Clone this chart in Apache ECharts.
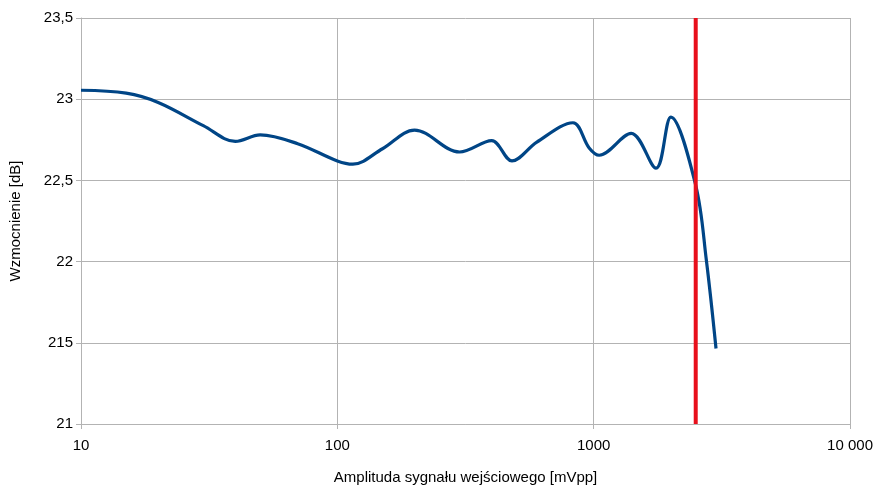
<!DOCTYPE html>
<html>
<head>
<meta charset="utf-8">
<script src="https://cdn.jsdelivr.net/npm/echarts@6/dist/echarts.min.js"></script>
<style>
  html, body { margin: 0; padding: 0; background: #fff; }
  #chart { width: 876px; height: 490px; }
</style>
</head>
<body>
<div id="chart"></div>
<script>
// Input amplitude (mVpp) and measured gain (dB)
const amplitude = [10, 15, 20, 30, 40, 50, 70, 100, 115, 150, 200, 300, 400, 480, 600, 830, 960, 1050, 1400, 1750, 2000, 2500, 2750, 3000];
const gain = [23.055, 23.037, 22.98, 22.837, 22.74, 22.78, 22.726, 22.62, 22.60, 22.695, 22.81, 22.675, 22.745, 22.62, 22.736, 22.855, 22.70, 22.655, 22.79, 22.575, 22.89, 22.47, 22.01, 21.465];

// Limit marker (vertical line)
const limitAmplitude = 2500;

// Axis tick labels
const xTickValues = [10, 100, 1000, 10000];
const xTickLabels = ['10', '100', '1000', '10 000'];
const yTickValues = [21, 21.5, 22, 22.5, 23, 23.5];
const yTickLabels = ['21', '215', '22', '22,5', '23', '23,5'];

const gainData = amplitude.map((a, i) => [a, gain[i]]);
const limitData = [[limitAmplitude, 21], [limitAmplitude, 23.5]];

const font = 'Liberation Sans, Arial, sans-serif';
const gridColor = '#b3b3b3';

const chart = echarts.init(document.getElementById('chart'), null, { renderer: 'canvas' });
chart.setOption({
  animation: false,
  backgroundColor: '#ffffff',
  grid: { left: 81, right: 20, top: 18, bottom: 63, containLabel: false },
  xAxis: {
    type: 'log',
    logBase: 10,
    min: 10,
    max: 10000,
    name: 'Amplituda sygnału wejściowego [mVpp]',
    nameLocation: 'middle',
    nameGap: 46,
    nameTextStyle: { fontFamily: font, fontSize: 15, color: '#000' },
    axisLine: { show: true, lineStyle: { color: gridColor, width: 1 } },
    axisTick: { show: true, length: 5, lineStyle: { color: gridColor } },
    minorTick: { show: false },
    axisLabel: {
      fontFamily: font, fontSize: 15, color: '#000', margin: 14,
      formatter: v => {
        const idx = xTickValues.findIndex(t => Math.abs(t - v) < 1e-6 * t);
        return idx >= 0 ? xTickLabels[idx] : '';
      }
    },
    splitLine: { show: true, lineStyle: { color: gridColor, width: 1 } }
  },
  yAxis: {
    type: 'value',
    min: 21,
    max: 23.5,
    interval: 0.5,
    name: 'Wzmocnienie [dB]',
    nameLocation: 'middle',
    nameRotate: 90,
    nameGap: 58,
    nameTextStyle: { fontFamily: font, fontSize: 15, color: '#000' },
    axisLine: { show: true, lineStyle: { color: gridColor, width: 1 } },
    axisTick: { show: true, length: 5, lineStyle: { color: gridColor } },
    axisLabel: {
      fontFamily: font, fontSize: 15, color: '#000', margin: 8,
      formatter: v => {
        const idx = yTickValues.findIndex(t => Math.abs(t - v) < 1e-6);
        return idx >= 0 ? yTickLabels[idx] : '';
      }
    },
    splitLine: { show: true, lineStyle: { color: gridColor, width: 1 } }
  },
  series: [
    {
      name: 'Wzmocnienie',
      type: 'line',
      data: gainData,
      smooth: 0.35,
      showSymbol: false,
      lineStyle: { color: '#004586', width: 3.2 },
      z: 3
    },
    {
      name: 'Limit',
      type: 'line',
      data: limitData,
      showSymbol: false,
      lineStyle: { color: '#e8101c', width: 4 },
      z: 4
    }
  ]
});
</script>
</body>
</html>
